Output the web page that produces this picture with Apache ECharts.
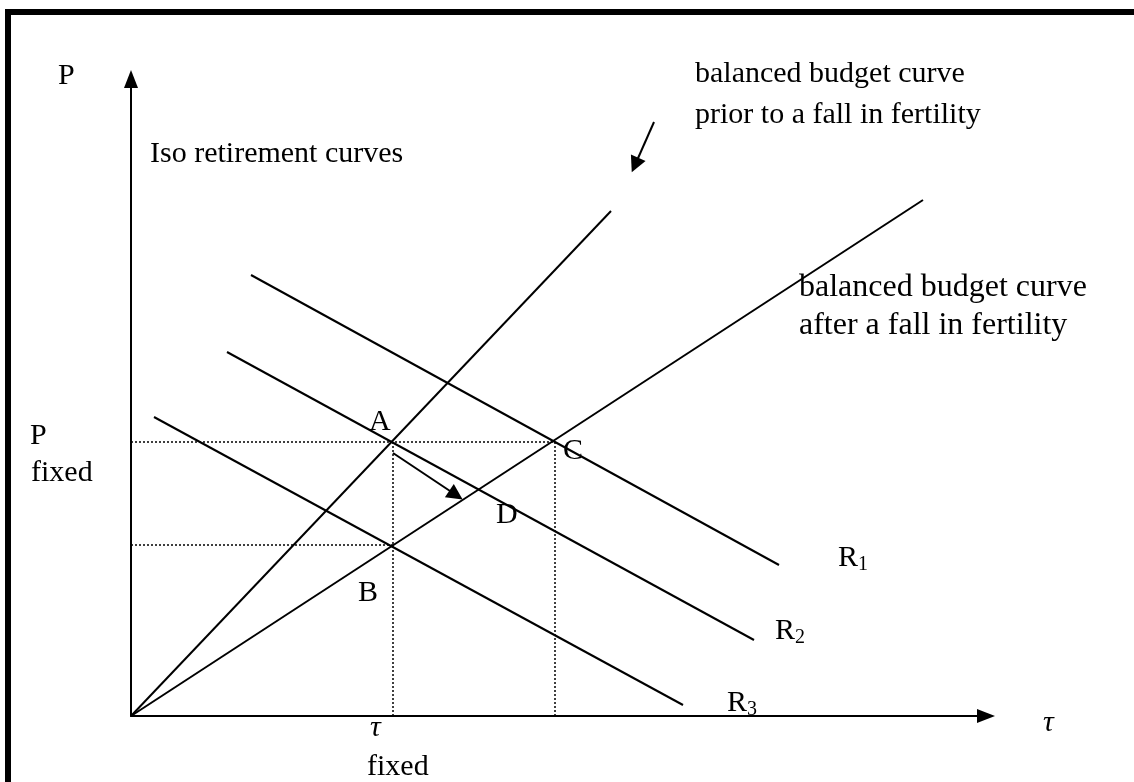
<!DOCTYPE html>
<html>
<head>
<meta charset="utf-8">
<script src="https://cdn.jsdelivr.net/npm/echarts@6/dist/echarts.min.js"></script>
<style>
  html, body { margin: 0; padding: 0; background: #fff; }
  #chart { width: 1134px; height: 782px; }
</style>
</head>
<body>
<div id="chart"></div>
<script>
// schematic units: tau along x, P along y (origin at the axes' corner)
const priorCurve = [[0, 0], [480, 505]];      // balanced budget before the fall
const afterCurve = [[0, 0], [792, 516]];      // balanced budget after the fall
const isoR1 = [[120, 441], [648, 151]];
const isoR2 = [[96, 364], [623, 76]];
const isoR3 = [[23, 299], [552, 11]];
const pointA = [262, 274];
const pointB = [262, 171];
const pointC = [424, 274];
const moveArrow = [[262, 263], [325, 221]];   // A towards D
const noteArrow = [[523, 594], [504, 551]];   // from the "prior" note

const dotted = [
  [[0, pointA[1]], [pointC[0], pointC[1]]],
  [[0, pointB[1]], [pointB[0], pointB[1]]],
  [[pointA[0], 0], [pointA[0], pointA[1]]],
  [[pointC[0], 0], [pointC[0], pointC[1]]]
];

const serif = '"Liberation Serif", "DejaVu Serif", serif';

function txt(x, base, s, size, italic) {
  size = size || 30;
  return {
    type: 'text',
    style: {
      x: x,
      y: base - size * 0.3,
      text: s,
      font: (italic ? 'italic ' : '') + size + 'px ' + serif,
      fill: '#000',
      textVerticalAlign: 'middle'
    }
  };
}

const chart = echarts.init(document.getElementById('chart'));

const solid = { color: '#000', width: 2 };

const series = [
  { data: priorCurve },
  { data: afterCurve },
  { data: isoR1 },
  { data: isoR2 },
  { data: isoR3 }
].map(s => ({
  type: 'line', data: s.data, symbol: 'none', silent: true,
  lineStyle: solid, animation: false
}));

dotted.forEach(d => {
  series.push({
    type: 'line', data: d, symbol: 'none', silent: true, animation: false,
    lineStyle: { color: '#000', width: 1.5, type: [2, 2] }
  });
});

series.push({
  type: 'lines',
  coordinateSystem: 'cartesian2d',
  symbol: ['none', 'triangle'],
  symbolSize: [12, 16],
  lineStyle: { color: '#000', width: 2, opacity: 1 },
  data: [{ coords: moveArrow }, { coords: noteArrow }],
  animation: false
});

const axisBase = {
  axisLine: { show: true, symbol: ['none', 'triangle'], symbolSize: [14, 18],
    lineStyle: { color: '#000', width: 2 } },
  axisTick: { show: false }, axisLabel: { show: false }, splitLine: { show: false }
};

const option = {
  animation: false,
  backgroundColor: '#fff',
  grid: { left: 131, top: 79, right: 148, bottom: 66 },
  xAxis: Object.assign({ type: 'value', min: 0, max: 855 }, axisBase),
  yAxis: Object.assign({ type: 'value', min: 0, max: 637 }, axisBase),
  series: series,
  graphic: [
    {
      type: 'rect',
      shape: { x: 8, y: 12, width: 1300, height: 1000 },
      style: { fill: 'none', stroke: '#000', lineWidth: 6 }
    },
    txt(58, 85, 'P'),
    txt(150, 163, 'Iso retirement curves'),
    txt(695, 83, 'balanced budget curve'),
    txt(695, 124, 'prior to a fall in fertility'),
    txt(799, 297, 'balanced budget curve', 32),
    txt(799, 335, 'after a fall in fertility', 32),
    txt(30, 445, 'P'),
    txt(31, 482, 'fixed'),
    txt(369, 431, 'A'),
    txt(563, 460, 'C'),
    txt(496, 524, 'D'),
    txt(358, 602, 'B'),
    txt(838, 567, 'R'), txt(858, 571, '1', 20),
    txt(775, 640, 'R'), txt(795, 644, '2', 20),
    txt(727, 712, 'R'), txt(747, 716, '3', 20),
    txt(1043, 732, 'τ', 30, true),
    txt(370, 737, 'τ', 30, true),
    txt(367, 776, 'fixed')
  ]
};

chart.setOption(option);
</script>
</body>
</html>
